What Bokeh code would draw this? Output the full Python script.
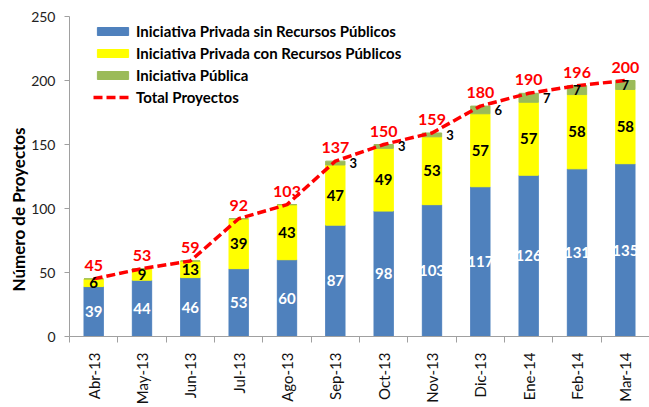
import math
from bokeh.plotting import figure
from bokeh.models import (ColumnDataSource, Range1d, FixedTicker, Title,
                          Legend, LegendItem, CustomJSTickFormatter)
from bokeh.core.properties import value
from bokeh.embed import file_html
from bokeh.resources import INLINE

# ---------------- data ----------------
categories = ["Abr-13", "May-13", "Jun-13", "Jul-13", "Ago-13", "Sep-13",
              "Oct-13", "Nov-13", "Dic-13", "Ene-14", "Feb-14", "Mar-14"]
privada_sin = [39, 44, 46, 53, 60, 87, 98, 103, 117, 126, 131, 135]
privada_con = [6, 9, 13, 39, 43, 47, 49, 53, 57, 57, 58, 58]
publica = [0, 0, 0, 0, 0, 3, 3, 3, 6, 7, 7, 7]
total = [45, 53, 59, 92, 103, 137, 150, 159, 180, 190, 196, 200]
y_ticks = [0, 50, 100, 150, 200, 250]
series_names = ["Iniciativa Privada sin Recursos Públicos",
                "Iniciativa Privada con Recursos Públicos",
                "Iniciativa Pública", "Total Proyectos"]

# ---------------- style ----------------
FONT = "Lato"
C_BLUE, C_YEL, C_GRN, C_RED = "#4F81BD", "#FFFF00", "#9BBB59", "#FF0000"
AXIS_C = "#A0A0A0"
# label shift (px) of the small "Iniciativa Pública" labels placed beside the bar
green_dx = [0, 0, 0, 0, 0, 18, 18, 18, 18, 18, 0, 0]

n = len(categories)
xc = [i + 0.5 for i in range(n)]   # category centres on an index scale
src = ColumnDataSource(dict(
    x=xc, sin=privada_sin, con=privada_con, pub=publica, total=total,
    sin_mid=[s / 2 for s in privada_sin],
    con_mid=[s + c / 2 for s, c in zip(privada_sin, privada_con)],
    sin_lbl=[str(v) for v in privada_sin],
    con_lbl=[str(v) for v in privada_con],
    tot_lbl=[str(v) for v in total],
))
gi = [i for i in range(n) if publica[i] > 0]
gsrc = ColumnDataSource(dict(
    x=[xc[i] for i in gi],
    y=[privada_sin[i] + privada_con[i] + publica[i] / 2 for i in gi],
    lbl=[str(publica[i]) for i in gi],
    dx=[green_dx[i] for i in gi],
))

p = figure(width=649, height=407, x_range=Range1d(0, n),
           y_range=Range1d(0, 250), output_backend="svg", toolbar_location=None,
           min_border_left=69, min_border_right=0,
           min_border_top=16, min_border_bottom=69)
p.outline_line_color = None
p.background_fill_color = "white"
p.border_fill_color = "white"
p.xgrid.grid_line_color = None
p.ygrid.grid_line_color = None

# y axis
ya = p.yaxis[0]
ya.ticker = FixedTicker(ticks=y_ticks)
ya.axis_line_color = AXIS_C
ya.major_tick_line_color = AXIS_C
ya.major_tick_out = 5
ya.major_tick_in = 0
ya.minor_tick_line_color = None
ya.major_label_standoff = 9
ya.major_label_text_font = FONT
ya.major_label_text_font_size = "14px"
ya.major_label_text_color = "#222222"

# x axis (ticks between categories, labels at centres)
xa = p.xaxis[0]
xa.ticker = FixedTicker(ticks=xc, minor_ticks=list(range(n + 1)))
xa.formatter = CustomJSTickFormatter(
    args=dict(labels=categories),
    code="const i = Math.floor(tick); return (i >= 0 && i < labels.length) ? labels[i] : '';")
xa.axis_line_color = AXIS_C
xa.major_tick_out = 0
xa.major_tick_in = 0
xa.minor_tick_out = 6
xa.minor_tick_in = 0
xa.minor_tick_line_color = AXIS_C
xa.major_label_orientation = math.pi / 2
xa.major_label_standoff = 10
xa.major_label_text_font = FONT
xa.major_label_text_font_size = "15px"
xa.major_label_text_color = "#111111"

# bars
bars = p.vbar_stack(["sin", "con", "pub"], x="x", width=0.4,
                    color=[C_BLUE, C_YEL, C_GRN], source=src)
line = p.line(x="x", y="total", source=src, line_color=C_RED, line_width=3.5,
              line_dash="9 4")

# data labels
p.text(x="x", y="sin_mid", text="sin_lbl", source=src, text_color="white",
       text_font=value(FONT), text_font_style="bold", text_font_size="15px",
       text_align="center", text_baseline="middle")
p.text(x="x", y="con_mid", text="con_lbl", source=src, text_color="black",
       text_font=value(FONT), text_font_style="bold", text_font_size="15px",
       text_align="center", text_baseline="middle")
p.text(x="x", y="y", text="lbl", x_offset="dx", source=gsrc, text_color="black",
       text_font=value(FONT), text_font_style="bold", text_font_size="13px",
       text_align="center", text_baseline="middle")
p.text(x="x", y="total", text="tot_lbl", source=src, text_color=C_RED, y_offset=-8,
       text_font=value(FONT), text_font_style="bold", text_font_size="16px",
       text_align="center", text_baseline="bottom")

# legend
legend = Legend(items=[LegendItem(label=series_names[0], renderers=[bars[0]]),
                       LegendItem(label=series_names[1], renderers=[bars[1]]),
                       LegendItem(label=series_names[2], renderers=[bars[2]]),
                       LegendItem(label=series_names[3], renderers=[line])],
                location=(24, 228), orientation="vertical",
                glyph_width=39, glyph_height=10, label_height=22, spacing=0,
                padding=0, margin=0, label_standoff=4,
                label_text_font=FONT, label_text_font_style="bold",
                label_text_font_size="15px", label_text_color="black",
                background_fill_alpha=0, border_line_color=None)
p.add_layout(legend)

# y axis title (starts lower than centre, like the original)
p.add_layout(Title(text="Número de Proyectos", align="left", offset=45,
                   standoff=0, text_font=FONT, text_font_style="bold",
                   text_font_size="17px", text_color="black"), "left")

open("out.html", "w").write(file_html(p, INLINE))
